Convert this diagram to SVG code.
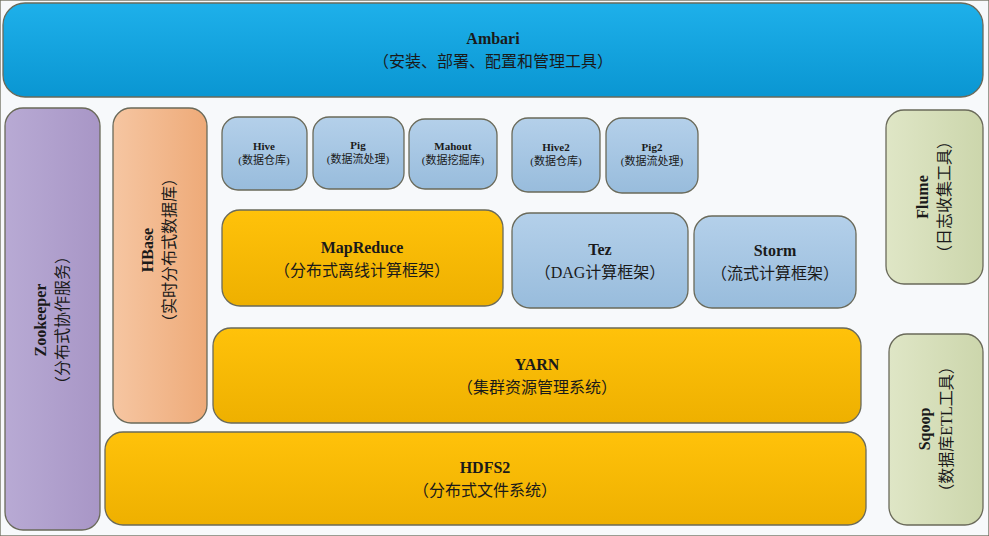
<svg xmlns="http://www.w3.org/2000/svg" width="989" height="536" viewBox="0 0 989 536">
<defs>
<linearGradient id="gA" x1="0" y1="0" x2="0" y2="1"><stop offset="0" stop-color="#1eb0ea"/><stop offset="1" stop-color="#0a96d2"/></linearGradient>
<linearGradient id="gB" x1="0" y1="0" x2="0" y2="1"><stop offset="0" stop-color="#b4d0ea"/><stop offset="1" stop-color="#98bcdc"/></linearGradient>
<linearGradient id="gY" x1="0" y1="0" x2="0" y2="1"><stop offset="0" stop-color="#ffc20a"/><stop offset="1" stop-color="#eeb000"/></linearGradient>
<linearGradient id="gP" x1="0" y1="0" x2="1" y2="0"><stop offset="0" stop-color="#b8aad4"/><stop offset="1" stop-color="#a896c6"/></linearGradient>
<linearGradient id="gO" x1="0" y1="0" x2="1" y2="0"><stop offset="0" stop-color="#f6c6a2"/><stop offset="1" stop-color="#eeaa78"/></linearGradient>
<linearGradient id="gG" x1="0" y1="0" x2="1" y2="0"><stop offset="0" stop-color="#dfe6c6"/><stop offset="1" stop-color="#ccd6ac"/></linearGradient>
</defs>
<style>
rect{stroke:#6a6a5a;stroke-width:1.3}
text{font-family:"Liberation Serif","Noto Sans CJK SC",serif;fill:#1a1a1a;text-anchor:middle}
.b{font-weight:bold}
.L{font-size:16px}
.s{font-size:11px}
</style>
<rect x="0" y="0" width="989" height="536" fill="#f7f9fb" stroke="none"/>
<g id="ambari"><rect x="3" y="3" width="980" height="94" rx="22" fill="url(#gA)"/>
<text x="493" y="44" class="b L">Ambari</text><text x="493" y="67" class="L">（安装、部署、配置和管理工具）</text></g>
<g id="zookeeper"><rect x="5" y="108" width="95" height="422" rx="18" fill="url(#gP)"/>
<text transform="translate(46,320) rotate(-90)" class="b L">Zookeeper</text><text transform="translate(68,320) rotate(-90)" class="L">（分布式协作服务）</text></g>
<g id="hbase"><rect x="113" y="108" width="94" height="315" rx="18" fill="url(#gO)"/>
<text transform="translate(153,250) rotate(-90)" class="b L">HBase</text><text transform="translate(175,250) rotate(-90)" class="L">（实时分布式数据库）</text></g>
<g id="hive"><rect x="222" y="117" width="85" height="73" rx="16" fill="url(#gB)"/><text x="264" y="150" class="b s">Hive</text><text x="264" y="164" class="s">(数据仓库)</text></g>
<g id="pig"><rect x="313" y="117" width="91" height="72" rx="16" fill="url(#gB)"/><text x="358" y="149" class="b s">Pig</text><text x="358" y="163" class="s">(数据流处理)</text></g>
<g id="mahout"><rect x="409" y="119" width="88" height="70" rx="16" fill="url(#gB)"/><text x="453" y="150" class="b s">Mahout</text><text x="453" y="164" class="s">(数据挖掘库)</text></g>
<g id="hive2"><rect x="512" y="118" width="88" height="74" rx="16" fill="url(#gB)"/><text x="556" y="151" class="b s">Hive2</text><text x="556" y="165" class="s">(数据仓库)</text></g>
<g id="pig2"><rect x="606" y="118" width="92" height="75" rx="16" fill="url(#gB)"/><text x="652" y="151" class="b s">Pig2</text><text x="652" y="165" class="s">(数据流处理)</text></g>
<g id="mapreduce"><rect x="222" y="210" width="281" height="96" rx="18" fill="url(#gY)"/><text x="362" y="253" class="b L">MapReduce</text><text x="362" y="276" class="L">（分布式离线计算框架）</text></g>
<g id="tez"><rect x="512" y="213" width="176" height="95" rx="18" fill="url(#gB)"/><text x="600" y="255" class="b L">Tez</text><text x="600" y="278" class="L">（DAG计算框架）</text></g>
<g id="storm"><rect x="694" y="216" width="162" height="92" rx="18" fill="url(#gB)"/><text x="775" y="256" class="b L">Storm</text><text x="775" y="279" class="L">（流式计算框架）</text></g>
<g id="yarn"><rect x="213" y="328" width="648" height="95" rx="18" fill="url(#gY)"/><text x="537" y="370" class="b L">YARN</text><text x="537" y="393" class="L">（集群资源管理系统）</text></g>
<g id="hdfs2"><rect x="105" y="432" width="761" height="93" rx="18" fill="url(#gY)"/><text x="485" y="473" class="b L">HDFS2</text><text x="485" y="496" class="L">（分布式文件系统）</text></g>
<g id="flume"><rect x="886" y="110" width="97" height="174" rx="18" fill="url(#gG)"/>
<text transform="translate(928,197) rotate(-90)" class="b L">Flume</text><text transform="translate(950,197) rotate(-90)" class="L">（日志收集工具）</text></g>
<g id="sqoop"><rect x="889" y="334" width="94" height="191" rx="18" fill="url(#gG)"/>
<text transform="translate(930,429) rotate(-90)" class="b L">Sqoop</text><text transform="translate(952,429) rotate(-90)" class="L">（数据库ETL工具）</text></g>
<g id="connectors"></g>
</svg>
